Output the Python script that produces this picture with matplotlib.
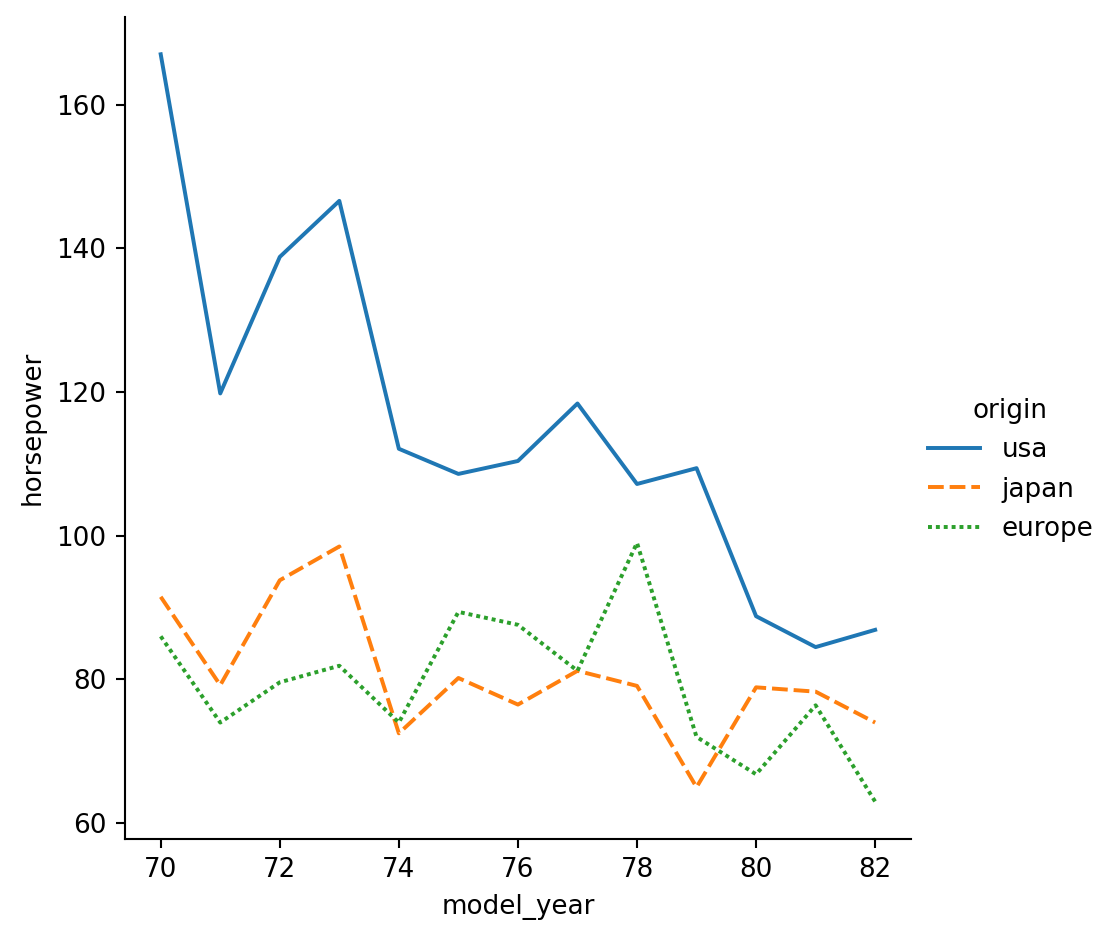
import numpy as np
import matplotlib.pyplot as plt

# mean horsepower per model year, by origin
years = [70, 71, 72, 73, 74, 75, 76, 77, 78, 79, 80, 81, 82]
usa = [167.0, 119.8, 138.8, 146.6, 112.1, 108.6, 110.4, 118.4, 107.2, 109.4, 88.8, 84.5, 86.9]
japan = [91.5, 79.2, 93.8, 98.5, 72.5, 80.2, 76.5, 81.2, 79.1, 65.0, 78.9, 78.3, 74.0]
europe = [86.0, 74.0, 79.6, 81.9, 74.0, 89.4, 87.6, 81.2, 99.0, 72.0, 66.8, 76.4, 63.0]
origins = ['usa', 'japan', 'europe']

dpi = 189
fig = plt.figure(figsize=(1119 / dpi, 940 / dpi), dpi=dpi)
ax = fig.add_axes([0.1117, 0.1075, 0.7023, 0.8745])

ax.plot(years, usa, color='#1f77b4', lw=1.5, label=origins[0])
ax.plot(years, japan, color='#ff7f0e', lw=1.5, dashes=(4, 1.5), label=origins[1])
ax.plot(years, europe, color='#2ca02c', lw=1.5, dashes=(1, 1), label=origins[2])

ax.set_xticks(np.arange(70, 83, 2))
ax.set_xlabel('model_year')
ax.set_ylabel('horsepower')
ax.spines['top'].set_visible(False)
ax.spines['right'].set_visible(False)

h, l = ax.get_legend_handles_labels()
fig.legend(h, l, title='origin', frameon=False, loc='center left',
           bbox_to_anchor=(0.808, 0.5))

fig.savefig('out.png', dpi=dpi)
